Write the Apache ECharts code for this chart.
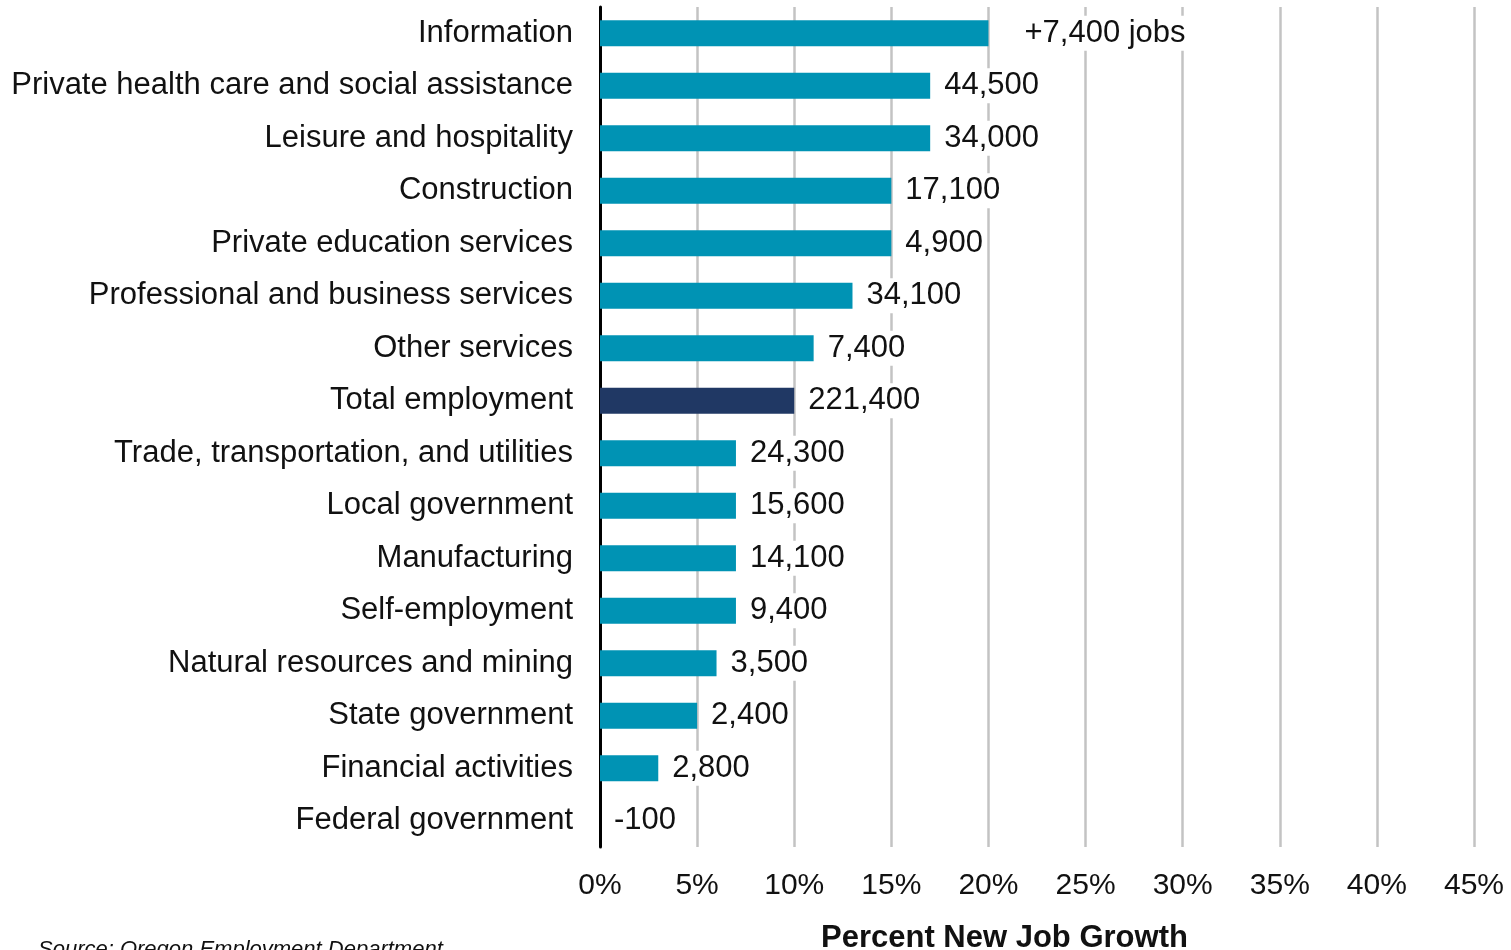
<!DOCTYPE html>
<html>
<head>
<meta charset="utf-8">
<script src="https://cdn.jsdelivr.net/npm/echarts@6/dist/echarts.min.js"></script>
<style>html,body{margin:0;padding:0;background:#fff;}#c{width:1511px;height:950px;}</style>
</head>
<body>
<div id="c"></div>
<script>
const categories = [
  "Information",
  "Private health care and social assistance",
  "Leisure and hospitality",
  "Construction",
  "Private education services",
  "Professional and business services",
  "Other services",
  "Total employment",
  "Trade, transportation, and utilities",
  "Local government",
  "Manufacturing",
  "Self-employment",
  "Natural resources and mining",
  "State government",
  "Financial activities",
  "Federal government"
];
const growthPct = [20.0, 17.0, 17.0, 15.0, 15.0, 13.0, 11.0, 10.0, 7.0, 7.0, 7.0, 7.0, 6.0, 5.0, 3.0, 0];
const jobLabels = ["+7,400 jobs", "44,500", "34,000", "17,100", "4,900", "34,100", "7,400", "221,400",
  "24,300", "15,600", "14,100", "9,400", "3,500", "2,400", "2,800", "-100"];
const xTicks = { min: 0, max: 45, interval: 5 };

const FONT = '"Liberation Sans", Arial, sans-serif';
const chart = echarts.init(document.getElementById('c'));
chart.setOption({
  animation: false,
  backgroundColor: '#fff',
  grid: { left: 600, right: 37, top: 7, bottom: 103, containLabel: false },
  xAxis: {
    type: 'value', min: xTicks.min, max: xTicks.max, interval: xTicks.interval,
    axisLine: { show: false }, axisTick: { show: false },
    splitLine: { show: true, lineStyle: { color: '#c3c3c3', width: 2.5 } },
    axisLabel: { formatter: v => v + '%', fontSize: 30, color: '#111', fontFamily: FONT, margin: 24 }
  },
  yAxis: {
    type: 'category', data: categories, inverse: true,
    axisLine: { show: true, onZero: false, lineStyle: { color: '#000', width: 3 } },
    axisTick: { show: false },
    axisLabel: { fontSize: 31, color: '#111', fontFamily: FONT, margin: 27, padding: [4, 0, 0, 0] }
  },
  title: [
    { text: 'Percent New Job Growth', left: 821, top: 923, padding: 0,
      textStyle: { fontSize: 31, fontWeight: 'bold', color: '#111', fontFamily: FONT } },
    { text: 'Source: Oregon Employment Department', left: 38, top: 939, padding: 0,
      textStyle: { fontSize: 22, fontStyle: 'italic', fontWeight: 'normal', color: '#111', fontFamily: FONT } }
  ],
  series: [{
    type: 'bar', barWidth: 26,
    data: growthPct.map((v, i) => ({
      value: v,
      itemStyle: { color: categories[i] === 'Total employment' ? '#203864' : '#0093B4' },
      label: { distance: i === 0 ? 33 : 11 }
    })),
    label: {
      show: true, position: 'right',
      formatter: p => jobLabels[p.dataIndex],
      fontSize: 31, color: '#111', fontFamily: FONT,
      backgroundColor: '#fff', padding: [4, 3, 0, 3]
    }
  }]
});
</script>
</body>
</html>
